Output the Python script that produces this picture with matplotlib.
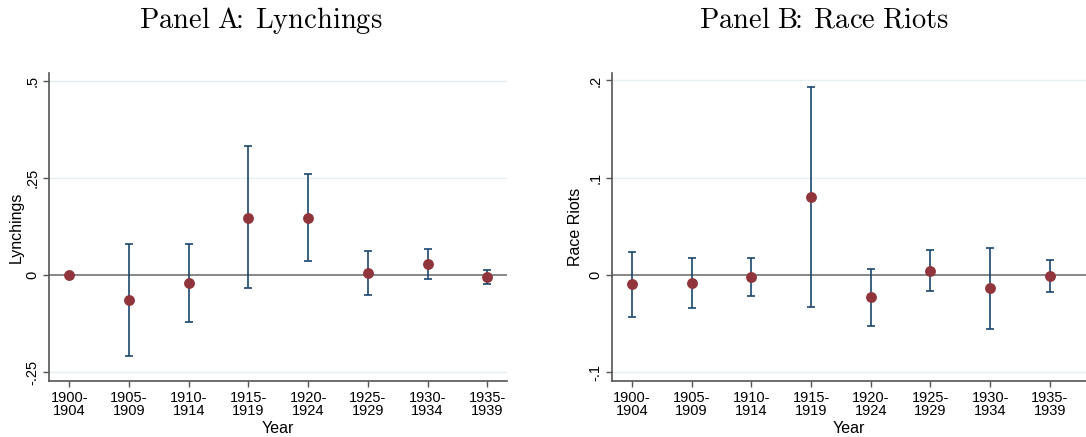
import numpy as np
import matplotlib
matplotlib.use("Agg")
import matplotlib.pyplot as plt

plt.rcParams["font.family"] = ["Liberation Sans", "DejaVu Sans"]
plt.rcParams["mathtext.fontset"] = "cm"

periods = ["1900-\n1904", "1905-\n1909", "1910-\n1914", "1915-\n1919",
           "1920-\n1924", "1925-\n1929", "1930-\n1934", "1935-\n1939"]

# Panel A: lynchings (coefficient, lower CI, upper CI)
lynch_coef = [0.0, -0.064, -0.021, 0.148, 0.147, 0.006, 0.028, -0.005]
lynch_lo = [0.0, -0.207, -0.121, -0.034, 0.036, -0.050, -0.009, -0.023]
lynch_hi = [0.0, 0.081, 0.080, 0.331, 0.259, 0.0625, 0.066, 0.013]

# Panel B: race riots
riot_coef = [-0.0096, -0.0082, -0.0024, 0.080, -0.023, 0.0045, -0.0137, -0.0014]
riot_lo = [-0.043, -0.0336, -0.0216, -0.033, -0.052, -0.016, -0.055, -0.0175]
riot_hi = [0.024, 0.017, 0.017, 0.1935, 0.0058, 0.0253, 0.028, 0.015]

NAVY = "#1a476f"
RED = "#90353b"
GRID = "#e6eff1"
AXIS = "#555555"


def draw_panel(ax, coef, lo, hi, yticks, yticklabels, ylim, xlim, ylabel, ylabelpad):
    x = np.arange(len(periods))
    coef = np.asarray(coef)
    err = np.vstack([coef - np.asarray(lo), np.asarray(hi) - coef])
    for t in yticks:
        if t != 0:
            ax.axhline(t, color=GRID, lw=1.0, zorder=0)
    ax.axhline(0, color="#666666", lw=1.1, zorder=1)
    has_ci = err.sum(axis=0) > 0
    ax.errorbar(x[has_ci], coef[has_ci], yerr=err[:, has_ci], fmt="none",
                ecolor=NAVY, elinewidth=1.2, capsize=3, capthick=1.2, zorder=2)
    ax.plot(x, coef, "o", color=RED, ms=6.8, zorder=3)
    ax.set_xlim(*xlim)
    ax.set_ylim(*ylim)
    ax.set_xticks(x)
    ax.set_xticklabels(periods, fontsize=10.5, linespacing=0.95)
    ax.set_yticks(yticks)
    ax.set_yticklabels(yticklabels, fontsize=10.5, rotation=90, va="center")
    ax.set_xlabel("Year", fontsize=11.5, labelpad=2)
    ax.set_ylabel(ylabel, fontsize=11.5, labelpad=ylabelpad)
    for side in ["top", "right"]:
        ax.spines[side].set_visible(False)
    for side in ["left", "bottom"]:
        ax.spines[side].set_color(AXIS)
        ax.spines[side].set_linewidth(1.2)
    ax.tick_params(direction="out", length=4, width=1, color=AXIS, pad=3)


fig = plt.figure(figsize=(10.86, 4.37), dpi=100)
ax_a = fig.add_axes([0.0451, 0.1281, 0.4218, 0.7055])
ax_b = fig.add_axes([0.5635, 0.1281, 0.4365, 0.7055])

draw_panel(ax_a, lynch_coef, lynch_lo, lynch_hi,
           [-0.25, 0, 0.25, 0.5], ["-.25", "0", ".25", ".5"],
           (-0.272, 0.52), (-0.34, 7.33), "Lynchings", 1)
draw_panel(ax_b, riot_coef, riot_lo, riot_hi,
           [-0.1, 0, 0.1, 0.2], ["-.1", "0", ".1", ".2"],
           (-0.109, 0.208), (-0.335, 7.605), "Race Riots", 4)

fig.text(0.240, 0.953, r"$\mathrm{Panel\ A\!\!:\;Lynchings}$", ha="center", va="center", fontsize=20.5)
fig.text(0.759, 0.953, r"$\mathrm{Panel\ B\!\!:\;Race\ Riots}$", ha="center", va="center", fontsize=20.5)

fig.savefig("out.png", dpi=100)
